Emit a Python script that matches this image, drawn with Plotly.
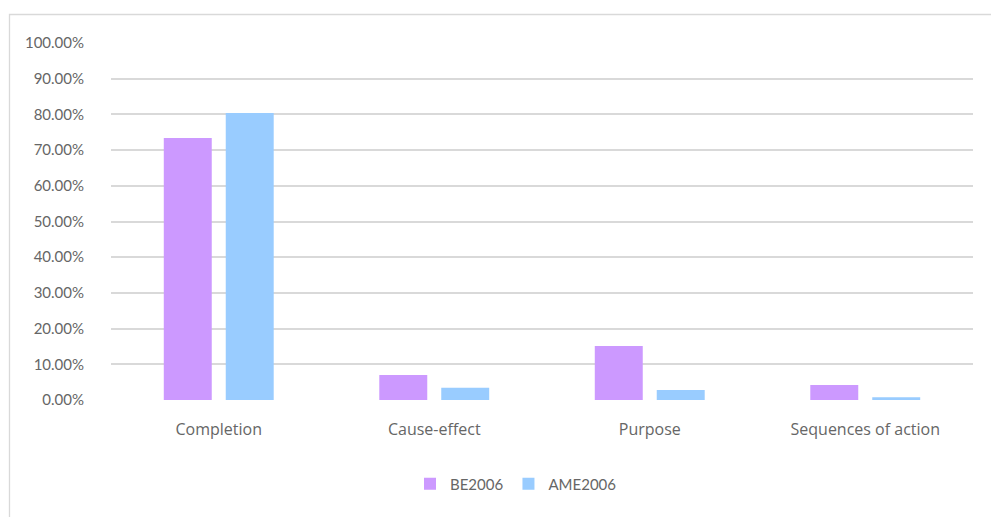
import plotly.graph_objects as go

# Share of each connective function by corpus
categories = ["Completion", "Cause-effect", "Purpose", "Sequences of action"]
be2006 = [0.734, 0.070, 0.151, 0.042]
ame2006 = [0.804, 0.034, 0.028, 0.008]
tick_vals = [i / 10 for i in range(11)]
tick_text = [f"{v * 100:.2f}%" for v in tick_vals]

fig = go.Figure()
fig.add_trace(go.Bar(name="BE2006", x=categories, y=be2006,
                     marker=dict(color="#CC99FF", line=dict(width=0))))
fig.add_trace(go.Bar(name="AME2006", x=categories, y=ame2006,
                     marker=dict(color="#99CCFF", line=dict(width=0))))

L, R, T, B = 111, 18, 43, 117
W, H = 991, 517
pw, ph = W - L - R, H - T - B

def px_x(x):
    return (x - L) / pw

def px_y(y):
    return (H - B - y) / ph

fig.update_layout(
    width=W, height=H,
    margin=dict(l=L, r=R, t=T, b=B, pad=0),
    paper_bgcolor="white", plot_bgcolor="white",
    barmode="group", bargap=0.425, bargroupgap=0.226,
    font=dict(family="Lato, 'Open Sans', sans-serif", size=15, color="#666666"),
    showlegend=True,
    legend=dict(orientation="h", x=px_x(410), xanchor="left",
                y=px_y(484), yanchor="middle",
                font=dict(size=15, color="#666666"),
                itemwidth=30, tracegroupgap=0, bgcolor="rgba(0,0,0,0)"),
    xaxis=dict(showgrid=False, zeroline=False, showline=False,
               ticks="outside", ticklen=15, tickcolor="rgba(0,0,0,0)",
               tickfont=dict(family="'Open Sans', sans-serif", size=16, color="#666666")),
    yaxis=dict(range=[0, 1], tickvals=tick_vals, ticktext=tick_text,
               showgrid=True, gridcolor="#D9D9D9", gridwidth=1.5,
               zeroline=False, showline=False,
               ticks="outside", ticklen=23, tickcolor="rgba(0,0,0,0)",
               tickfont=dict(size=15, color="#666666")),
    shapes=[dict(type="rect", xref="paper", yref="paper",
                 x0=px_x(9.5), x1=px_x(1000), y0=px_y(530), y1=px_y(14.5),
                 line=dict(color="#D9D9D9", width=1.3), fillcolor="rgba(0,0,0,0)",
                 layer="below")],
)

fig.write_html("out.html")
